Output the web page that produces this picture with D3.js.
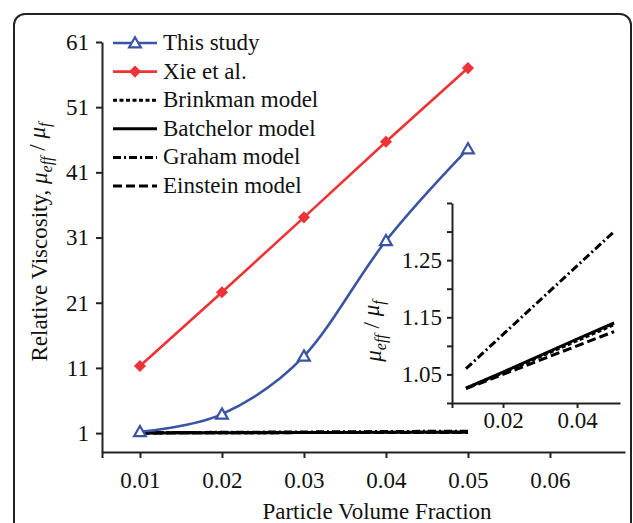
<!DOCTYPE html>
<html>
<head>
<meta charset="utf-8">
<script src="https://cdn.jsdelivr.net/npm/d3@7"></script>
</head>
<body style="margin:0">
<script>
// data
const fractions = [0.01, 0.02, 0.03, 0.04, 0.05];
const thisStudy = [1.2, 3.9, 12.8, 30.5, 44.6];
const xieEtAl = [11.3, 22.6, 34.1, 45.7, 57.0];
const brinkman = [1.026, 1.053, 1.081, 1.109, 1.137];
const batchelor = [1.026, 1.054, 1.083, 1.112, 1.140];
const graham = [1.06, 1.12, 1.18, 1.24, 1.30];
const einstein = [1.025, 1.05, 1.075, 1.10, 1.125];

const mainXTicks = [0.01, 0.02, 0.03, 0.04, 0.05, 0.06];
const mainYTicks = [1, 11, 21, 31, 41, 51, 61];
const insetXTicks = [0.02, 0.04];
const insetYTicks = [1.00, 1.05, 1.10, 1.15, 1.20, 1.25, 1.30, 1.35];
const insetYLabels = [1.05, 1.15, 1.25];

const W = 633, H = 523;
const blue = "#3a54a4", red = "#ee3337", ink = "#222";
const FONT = '"Liberation Serif"';

const svg = d3.select("body").append("svg")
    .attr("width", W).attr("height", H);

// every label goes through here so it gets the serif face
function label(parent, txt, size) {
    return parent.append("text")
        .style("font-family", FONT)
        .style("font-size", size + "px")
        .attr("fill", "#111")
        .text(txt);
}

// rounded frame (runs off the bottom / right like the original)
svg.append("rect")
    .attr("x", 14).attr("y", 14)
    .attr("width", 617).attr("height", 540)
    .attr("rx", 11)
    .attr("fill", "none").attr("stroke", ink).attr("stroke-width", 2);

// ---- main chart scales ----
const x = d3.scaleLinear().domain([0.00537, 0.06915]).range([102, 625]);
const y = d3.scaleLinear().domain([-1.9, 61]).range([452, 42]);

const models = [
    { name: "Brinkman model", values: brinkman, dash: "4,2.5" },
    { name: "Batchelor model", values: batchelor, dash: null },
    { name: "Graham model", values: graham, dash: "8,3,2,3" },
    { name: "Einstein model", values: einstein, dash: "9,4" }
];

function styleAxis(g) {
    g.attr("font-family", null).attr("font-size", null);
    g.selectAll("path").attr("stroke", ink).attr("stroke-width", 2);
    g.selectAll("line").attr("stroke", ink).attr("stroke-width", 2);
    g.selectAll("text").attr("fill", "#111")
        .style("font-family", FONT).style("font-size", "23px");
}

// x axis (extra tick at the left end of the domain)
const xStart = x.domain()[0];
svg.append("g")
    .attr("transform", "translate(0,452)")
    .call(d3.axisBottom(x)
        .tickValues([xStart].concat(mainXTicks))
        .tickFormat(d => d === xStart ? "" : d3.format(".2f")(d))
        .tickSize(6).tickSizeOuter(0).tickPadding(14))
    .call(styleAxis);

svg.append("g")
    .attr("transform", "translate(102,0)")
    .call(d3.axisLeft(y)
        .tickValues(mainYTicks)
        .tickSize(6).tickSizeOuter(0).tickPadding(7))
    .call(styleAxis);

// axis titles
label(svg, "Particle Volume Fraction", 23)
    .attr("x", 377).attr("y", 519)
    .attr("text-anchor", "middle");

function muLabel(sel) {
    sel.append("tspan").style("font-style", "italic").text("\u03bc");
    sel.append("tspan").style("font-style", "italic").style("font-size", "16px")
        .attr("dy", "0.3em").text("eff");
    sel.append("tspan").attr("dy", "-0.3em").text(" / ");
    sel.append("tspan").style("font-style", "italic").text("\u03bc");
    sel.append("tspan").style("font-style", "italic").style("font-size", "16px")
        .attr("dy", "0.3em").text("f");
}

const yTitle = label(svg, null, 23)
    .attr("transform", "translate(47,242) rotate(-90)")
    .attr("text-anchor", "middle");
yTitle.append("tspan").text("Relative Viscosity, ");
muLabel(yTitle);

// ---- main series ----
const pts = vals => fractions.map((f, i) => [f, vals[i]]);

const modelLine = d3.line().x(d => x(d[0])).y(d => y(d[1]));
models.forEach(m => {
    svg.append("path")
        .attr("d", modelLine(pts(m.values)))
        .attr("fill", "none").attr("stroke", "#000")
        .attr("stroke-width", 3)
        .attr("stroke-dasharray", m.dash);
});

svg.append("path")
    .attr("d", d3.line().x(d => x(d[0])).y(d => y(d[1]))(pts(xieEtAl)))
    .attr("fill", "none").attr("stroke", red).attr("stroke-width", 2.6);

svg.append("path")
    .attr("d", d3.line().curve(d3.curveCardinal.tension(0))
        .x(d => x(d[0])).y(d => y(d[1]))(pts(thisStudy)))
    .attr("fill", "none").attr("stroke", blue).attr("stroke-width", 2.6);

const diamond = d3.symbol().type(d3.symbolSquare).size(50);
const triangle = d3.symbol().type(d3.symbolTriangle).size(60);

svg.selectAll(".xie").data(pts(xieEtAl)).enter().append("path")
    .attr("class", "xie")
    .attr("d", diamond)
    .attr("transform", d => `translate(${x(d[0])},${y(d[1])}) rotate(45)`)
    .attr("fill", red).attr("stroke", red).attr("stroke-width", 1.5);

svg.selectAll(".study").data(pts(thisStudy)).enter().append("path")
    .attr("class", "study")
    .attr("d", triangle)
    .attr("transform", d => `translate(${x(d[0])},${y(d[1]) + 1})`)
    .attr("fill", "#fff").attr("stroke", blue).attr("stroke-width", 2.2);

// ---- legend ----
const legendItems = [
    { name: "This study", color: blue, dash: null, marker: "tri" },
    { name: "Xie et al.", color: red, dash: null, marker: "dia" }
].concat(models.map(m => ({ name: m.name, color: "#000", dash: m.dash, marker: null })));

const legend = svg.append("g").attr("transform", "translate(113,50)");
legendItems.forEach((d, i) => {
    const row = legend.append("g").attr("transform", `translate(0,${i * 28.6})`);
    row.append("line")
        .attr("x1", 0).attr("x2", 44).attr("y1", -7).attr("y2", -7)
        .attr("stroke", d.color)
        .attr("stroke-width", d.marker ? 2.6 : 3)
        .attr("stroke-dasharray", d.dash);
    if (d.marker === "tri") {
        row.append("path").attr("d", triangle)
            .attr("transform", "translate(22,-6)")
            .attr("fill", "#fff").attr("stroke", blue).attr("stroke-width", 2.2);
    } else if (d.marker === "dia") {
        row.append("path").attr("d", diamond)
            .attr("transform", "translate(22,-7) rotate(45)")
            .attr("fill", red).attr("stroke", red).attr("stroke-width", 1.5);
    }
    label(row, d.name, 23).attr("x", 50).attr("y", 0);
});

// ---- inset ----
const ix = d3.scaleLinear().domain([0.00622, 0.0516]).range([452, 620]);
const iy = d3.scaleLinear().domain([1.0, 1.35]).range([403, 203]);

const ixStart = ix.domain()[0];
svg.append("g")
    .attr("transform", "translate(0,403)")
    .call(d3.axisBottom(ix)
        .tickValues([ixStart].concat(insetXTicks))
        .tickFormat(d => d === ixStart ? "" : d3.format(".2f")(d))
        .tickSize(5).tickSizeOuter(0).tickPadding(4))
    .call(styleAxis);

svg.append("g")
    .attr("transform", "translate(452,0)")
    .call(d3.axisLeft(iy)
        .tickValues(insetYTicks)
        .tickFormat(d => insetYLabels.some(v => Math.abs(v - d) < 1e-9) ? d3.format(".2f")(d) : "")
        .tickSize(5).tickSizeOuter(0).tickPadding(5))
    .call(styleAxis);

const iTitle = label(svg, null, 23)
    .attr("transform", "translate(381,331) rotate(-90)")
    .attr("text-anchor", "middle");
muLabel(iTitle);

const insetLine = d3.line().x(d => ix(d[0])).y(d => iy(d[1]));
models.forEach(m => {
    svg.append("path")
        .attr("d", insetLine(pts(m.values)))
        .attr("fill", "none").attr("stroke", "#000")
        .attr("stroke-width", 3)
        .attr("stroke-dasharray", m.dash);
});
</script>
</body>
</html>
